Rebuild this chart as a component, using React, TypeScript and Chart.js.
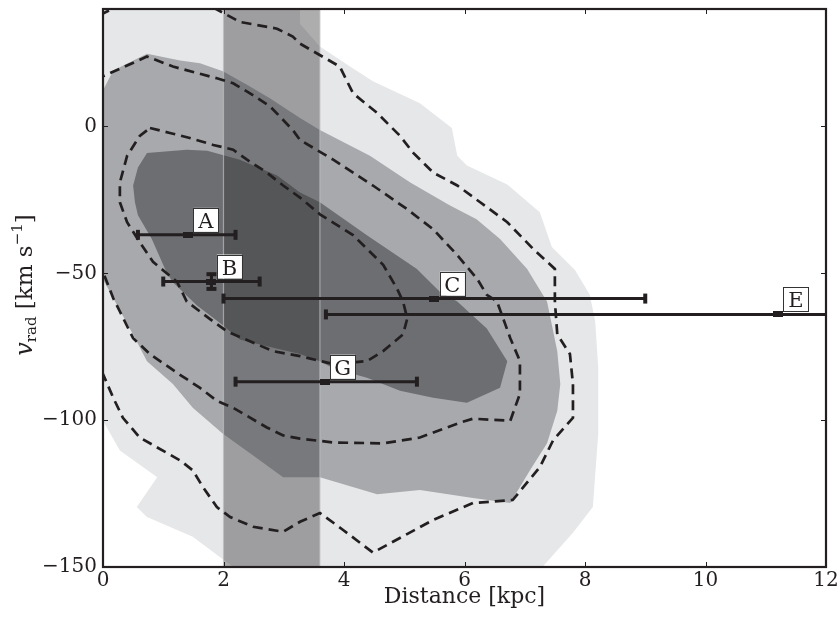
import React, { useEffect, useRef } from 'react';
import { Chart, registerables } from 'chart.js';

Chart.register(...registerables);

// ---- axes ----
const X_MIN = 0;
const X_MAX = 12;
const Y_MIN = -150;
const Y_MAX = 40;
const xTicks = [0, 2, 4, 6, 8, 10, 12];
const yTicks = [-150, -100, -50, 0];
const xTitle = 'Distance [kpc]';

// ---- filled density contours [distance kpc, v_rad km/s] ----
const outerFill: [number, number][] = [
  [-0.2, 41], [3.27, 41], [3.27, 35], [3.6, 27.2], [4.1, 20.4], [4.48, 15.4], [5.26, 7.9],
  [5.79, -0.5], [5.88, -10], [6.04, -13.3], [6.71, -19.8], [7.25, -29.2], [7.45, -41],
  [7.83, -48.8], [8.08, -57.3], [8.17, -66.4], [8.22, -82.3], [8.22, -104.6], [8.13, -129.6],
  [7.8, -138.3], [7.25, -151], [2.16, -151], [2.16, -150], [1.49, -139.7], [0.73, -133],
  [0.56, -129.6], [0.9, -119.4], [0.28, -110.3], [0, -100.2], [-0.2, -100.2],
];
const midFill: [number, number][] = [
  [-0.2, 12.3], [0, 12.3], [0.17, 19.1], [0.73, 24.8], [1.28, 22.5], [1.61, 21.5], [1.99, 18.8],
  [2.39, 14.2], [2.77, 9.6], [3.27, 2.9], [3.6, -1.2], [4.43, -10], [5.1, -19.1], [5.76, -26.9],
  [6.2, -31.6], [6.59, -38.3], [7.04, -48.5], [7.3, -57.3], [7.37, -59.6], [7.54, -76.5],
  [7.59, -87.7], [7.54, -96.8], [7.37, -107.9], [7.09, -117], [6.76, -128.2], [6.14, -126.5],
  [5.26, -123.8], [4.55, -125.2], [3.6, -119.4], [2.99, -119.4], [2.44, -111.3], [1.99, -104.6],
  [1.49, -95.8], [1.16, -87.7], [0.73, -79.9], [0.5, -70.8], [0.2, -59.6], [0, -52], [-0.2, -52],
];
const innerFill: [number, number][] = [
  [0.73, -9], [1.39, -7.9], [1.73, -8.3], [2.27, -11.3], [2.89, -16.7], [3.27, -22.5],
  [3.6, -25.8], [4.38, -37], [5.21, -48.5], [5.59, -56.3], [5.88, -59.6], [6.37, -68.8],
  [6.71, -79.9], [6.59, -89], [6.04, -94.1], [5.48, -92.4], [4.93, -90], [4.38, -85.6],
  [3.82, -82.3], [3.6, -79.9], [3.27, -77.5], [2.72, -74.8], [2.27, -72.5], [1.98, -67.5],
  [1.56, -61], [1.15, -52.9], [1.03, -48.5], [0.81, -38.3], [0.58, -30.2], [0.53, -25.8],
  [0.5, -20.1], [0.58, -14],
];

// ---- dashed contours ----
const dashOuter: [number, number][] = [
  [1.83, 40.5], [2.27, 35.6], [2.89, 33.3], [3.15, 30.6], [3.27, 28.2], [3.93, 20.4],
  [4.15, 11.3], [4.55, 4.6], [4.93, -3.2], [5.15, -9], [5.48, -15.7], [5.88, -20.1],
  [6.26, -25.8], [6.71, -32.6], [7.14, -41.7], [7.5, -48.5], [7.5, -59.6], [7.54, -70.8],
  [7.75, -77.5], [7.8, -87.7], [7.8, -99.2], [7.47, -106.9], [7.25, -116], [6.8, -127.2],
  [6.14, -128.2], [5.48, -134], [4.48, -145.1], [3.98, -137.3], [3.6, -131.6], [3.27, -134.6],
  [2.99, -138], [2.49, -136.3], [2.11, -133], [1.89, -129.6], [1.66, -122.8], [1.49, -117.1],
  [1.28, -113.7], [0.9, -109.3], [0.61, -105.9], [0.33, -99.2], [0.17, -92.4], [0, -84.3],
  [-0.1, -81],
];
const dashOuterCorner: [number, number][] = [[-0.05, 38], [0.25, 41]];
const dashMid: [number, number][] = [
  [-0.1, -46], [0, -49.5], [0.17, -58.5], [0.28, -63], [0.5, -72.1], [0.78, -77.5],
  [1.23, -83.9], [1.61, -89], [1.89, -93.4], [2.16, -95.8], [2.72, -102.5], [2.99, -105.2],
  [3.27, -106.3], [3.82, -107.6], [4.65, -107.9], [5.26, -105.9], [5.93, -100.8], [6.14, -99.5],
  [6.76, -100.2], [6.92, -91], [6.92, -79.9], [6.76, -72.1], [6.54, -59.6], [6.37, -57.3],
  [6.21, -51.9], [5.88, -43.8], [5.48, -35], [5.05, -28.2], [4.48, -20.1], [3.82, -11.3],
  [3.27, -4.6], [3.15, -1.2], [2.77, 6.9], [2.44, 11.3], [2.16, 14.7], [1.89, 16.4],
  [1.16, 20.4], [0.73, 23.8], [0, 17.1], [-0.1, 16.5],
];
const dashInner: [number, number][] = [
  [0.78, -0.5], [1.11, -2.2], [1.44, -3.9], [1.83, -6.3], [2.16, -7.9], [2.39, -11.3],
  [2.72, -15.7], [2.99, -20.1], [3.27, -24.2], [3.6, -29.9], [4.15, -37], [4.65, -47.1],
  [4.88, -55.2], [4.98, -59.6], [5.05, -65.4], [4.98, -70.8], [4.65, -76.5], [4.38, -79.9],
  [3.82, -80.9], [3.27, -78.2], [2.82, -76.5], [2.32, -72.1], [2.06, -69.8], [1.83, -66.4],
  [1.61, -63], [1.39, -59.6], [1.23, -52.9], [0.83, -46.1], [0.61, -39.4], [0.4, -32.6],
  [0.28, -25.8], [0.28, -19.1], [0.4, -10], [0.61, -3.2], [0.78, -0.5],
];

// ---- shaded distance band ----
const bandRange: [number, number] = [2.0, 3.6];

// ---- stars ----
const starNames = ['A', 'B', 'C', 'E', 'G'];
const starDist = [1.41, 1.8, 5.5, 11.2, 3.68];
const starDistLo = [0.58, 1.0, 2.0, 3.7, 2.2];
const starDistHi = [2.2, 2.6, 9.0, 18.7, 5.21];
const starVrad = [-36.9, -52.8, -58.6, -64.0, -86.9];
const starVradErr = [0, 2.5, 0, 0, 0];

const FONT = '"DejaVu Serif", "Liberation Serif", serif';
const INK = '#231f20';

const pts = (arr: [number, number][]) => arr.map(([x, y]) => ({ x, y }));

function makeMarker(): HTMLCanvasElement {
  const c = document.createElement('canvas');
  c.width = 10;
  c.height = 6;
  const g = c.getContext('2d')!;
  g.fillStyle = INK;
  g.fillRect(0, 0, 10, 6);
  return c;
}

export default function App() {
  const ref = useRef<HTMLCanvasElement | null>(null);

  useEffect(() => {
    if (!ref.current) return;
    const marker = makeMarker();

    const fillDs = (data: [number, number][], color: string, order: number) => ({
      type: 'line',
      data: pts(data),
      fill: 'shape',
      backgroundColor: color,
      borderColor: 'rgba(0,0,0,0)',
      borderWidth: 1,
      pointRadius: 0,
      tension: 0,
      order,
    });
    const dashDs = (data: [number, number][], order: number) => ({
      type: 'line',
      data: pts(data),
      fill: false,
      borderColor: INK,
      borderWidth: 2.7,
      borderDash: [10, 6],
      pointRadius: 0,
      tension: 0,
      order,
    });

    const datasets: any[] = [
      fillDs(outerFill, '#e6e7e8', 100),
      fillDs(midFill, '#a7a9ac', 99),
      fillDs(innerFill, '#6d6e71', 98),
      {
        type: 'line',
        data: pts([
          [bandRange[0], Y_MIN - 2], [bandRange[1], Y_MIN - 2],
          [bandRange[1], Y_MAX + 2], [bandRange[0], Y_MAX + 2], [bandRange[0], Y_MIN - 2],
        ]),
        fill: 'shape',
        backgroundColor: 'rgba(50,50,52,0.4)',
        borderColor: 'rgba(190,190,192,0.7)',
        borderWidth: 1.2,
        pointRadius: 0,
        tension: 0,
        order: 97,
      },
      dashDs(dashOuter, 90),
      dashDs(dashOuterCorner, 90),
      dashDs(dashMid, 89),
      dashDs(dashInner, 88),
    ];

    starNames.forEach((_, i) => {
      datasets.push({
        type: 'line',
        data: [
          { x: starDistLo[i], y: starVrad[i] },
          { x: starDist[i], y: starVrad[i] },
          { x: starDistHi[i], y: starVrad[i] },
        ],
        fill: false,
        borderColor: INK,
        borderWidth: 3,
        tension: 0,
        pointStyle: ['line', marker, 'line'],
        rotation: [90, 0, 90],
        pointRadius: [5, 5, 5],
        pointBorderWidth: [4, 0, 4],
        pointBorderColor: INK,
        pointBackgroundColor: INK,
        order: 10 + i,
      });
      if (starVradErr[i] > 0) {
        datasets.push({
          type: 'line',
          data: [
            { x: starDist[i], y: starVrad[i] + starVradErr[i] },
            { x: starDist[i], y: starVrad[i] - starVradErr[i] },
          ],
          fill: false,
          borderColor: INK,
          borderWidth: 3,
          pointStyle: 'line',
          rotation: 0,
          pointRadius: 5,
          pointBorderWidth: 4,
          pointBorderColor: INK,
          order: 5,
        });
      }
    });

    const labelPlugin = {
      id: 'starLabels',
      afterDatasetsDraw(chart: any) {
        const { ctx, scales } = chart;
        ctx.save();
        starNames.forEach((name, i) => {
          const px = scales.x.getPixelForValue(starDist[i]);
          const py = scales.y.getPixelForValue(starVrad[i]);
          const cx = px + 18;
          const cy = py - 15;
          const w = 25;
          const h = 24;
          ctx.fillStyle = '#ffffff';
          ctx.fillRect(cx - w / 2, cy - h / 2, w, h);
          ctx.strokeStyle = '#333';
          ctx.lineWidth = 1;
          ctx.strokeRect(Math.round(cx - w / 2) + 0.5, Math.round(cy - h / 2) + 0.5, w, h);
          ctx.fillStyle = INK;
          ctx.font = `21px ${FONT}`;
          ctx.textAlign = 'center';
          ctx.textBaseline = 'alphabetic';
          ctx.fillText(name, cx, cy + 8);
        });
        ctx.restore();
      },
    };

    const framePlugin = {
      id: 'frameTicks',
      afterDraw(chart: any) {
        const { ctx, chartArea: a, scales } = chart;
        ctx.save();
        ctx.strokeStyle = INK;
        ctx.lineWidth = 1;
        const tl = 5;
        ctx.beginPath();
        xTicks.forEach((v) => {
          const x = Math.round(scales.x.getPixelForValue(v)) + 0.5;
          ctx.moveTo(x, a.bottom);
          ctx.lineTo(x, a.bottom - tl);
          ctx.moveTo(x, a.top);
          ctx.lineTo(x, a.top + tl);
        });
        yTicks.forEach((v) => {
          const y = Math.round(scales.y.getPixelForValue(v)) + 0.5;
          ctx.moveTo(a.left, y);
          ctx.lineTo(a.left + tl, y);
          ctx.moveTo(a.right, y);
          ctx.lineTo(a.right - tl, y);
        });
        ctx.stroke();
        ctx.lineWidth = 2.2;
        ctx.strokeRect(a.left, a.top, a.right - a.left, a.bottom - a.top);

        // x title
        ctx.fillStyle = INK;
        ctx.font = `22px ${FONT}`;
        ctx.textAlign = 'center';
        ctx.textBaseline = 'alphabetic';
        ctx.fillText(xTitle, (a.left + a.right) / 2, 603);

        // y title with sub/superscript
        const parts = [
          { t: 'v', f: `italic 24px ${FONT}`, dy: 0 },
          { t: 'rad', f: `15px ${FONT}`, dy: 4 },
          { t: ' [km s', f: `23px ${FONT}`, dy: 0 },
          { t: '\u22121', f: `15px ${FONT}`, dy: -10 },
          { t: ']', f: `23px ${FONT}`, dy: 0 },
        ];
        let total = 0;
        const widths = parts.map((p) => {
          ctx.font = p.f;
          const w = ctx.measureText(p.t).width;
          total += w;
          return w;
        });
        ctx.translate(32, 285);
        ctx.rotate(-Math.PI / 2);
        ctx.textAlign = 'left';
        let x = -total / 2;
        parts.forEach((p, i) => {
          ctx.font = p.f;
          ctx.fillText(p.t, x, p.dy);
          x += widths[i];
        });
        ctx.restore();
      },
    };

    const tickFont = { family: FONT, size: 20 };
    const minus = (v: any) => String(v).replace('-', '\u2212');

    const chart = new Chart(ref.current, {
      type: 'line',
      data: { datasets },
      options: {
        responsive: false,
        animation: false,
        devicePixelRatio: 1,
        events: [],
        layout: { padding: { left: 0, right: 13, top: 6, bottom: 0 } },
        plugins: { legend: { display: false }, tooltip: { enabled: false } },
        scales: {
          x: {
            type: 'linear',
            min: X_MIN,
            max: X_MAX,
            grid: { display: false, drawTicks: false },
            border: { display: false },
            ticks: { font: tickFont, color: INK, padding: 2, maxRotation: 0, autoSkip: false, callback: minus },
            afterBuildTicks: (s: any) => { s.ticks = xTicks.map((v) => ({ value: v })); },
            afterFit: (s: any) => { s.height = 55; s.paddingLeft = 0; s.paddingRight = 0; },
          },
          y: {
            type: 'linear',
            min: Y_MIN,
            max: Y_MAX,
            grid: { display: false, drawTicks: false },
            border: { display: false },
            ticks: { font: tickFont, color: INK, padding: 6, autoSkip: false, callback: minus },
            afterBuildTicks: (s: any) => { s.ticks = yTicks.map((v) => ({ value: v })); },
            afterFit: (s: any) => { s.width = 103; s.paddingTop = 0; s.paddingBottom = 0; },
          },
        },
      } as any,
      plugins: [labelPlugin, framePlugin],
    });
    return () => chart.destroy();
  }, []);

  return (
    <div style={{ position: 'absolute', left: 0, top: 0, width: 839, height: 622, background: '#fff' }}>
      <canvas ref={ref} width={839} height={622} style={{ width: 839, height: 622, display: 'block' }} />
    </div>
  );
}
